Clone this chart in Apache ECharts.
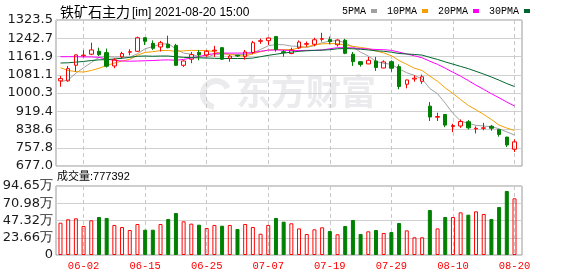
<!DOCTYPE html>
<html><head><meta charset="utf-8">
<script src="https://cdn.jsdelivr.net/npm/echarts/dist/echarts.min.js"></script>
<style>html,body{margin:0;padding:0;background:#fff}#c{width:578px;height:276px}</style>
</head><body><div id="c"></div><script>
const titleName = '铁矿石主力';
const titleInfo = '[im] 2021-08-20 15:00';
const volumeTitle = '成交量:777392';
const dates = ['05-28','05-31','06-01','06-02','06-03','06-04','06-07','06-08','06-09','06-10','06-11','06-15','06-16','06-17','06-18','06-21','06-22','06-23','06-24','06-25','06-28','06-29','06-30','07-01','07-02','07-05','07-06','07-07','07-08','07-09','07-12','07-13','07-14','07-15','07-16','07-19','07-20','07-21','07-22','07-23','07-26','07-27','07-28','07-29','07-30','08-02','08-03','08-04','08-05','08-06','08-09','08-10','08-11','08-12','08-13','08-16','08-17','08-18','08-19','08-20'];
const opens  = [1054,1054,1123,1165,1172,1185,1179,1120,1160,1181,1185,1245,1220,1204,1216,1211,1123,1150,1180,1168,1187,1201,1154,1167,1161,1180,1229,1232,1250,1183,1175,1200,1216,1216,1238,1237,1214,1234,1172,1139,1129,1142,1111,1139,1117,1039,1062,1052,942,893,905,852,854,873,841,844,853,838,805,751];
const closes = [1064,1108,1169,1168,1191,1170,1119,1147,1175,1183,1245,1229,1198,1223,1201,1123,1142,1170,1169,1185,1190,1150,1164,1164,1182,1223,1232,1244,1193,1179,1191,1226,1219,1236,1241,1228,1235,1176,1139,1127,1145,1113,1138,1110,1029,1058,1066,1072,894,896,858,856,874,846,844,846,844,817,770,784];
const lows   = [1028,1050,1095,1158,1168,1164,1113,1110,1151,1167,1182,1213,1191,1184,1198,1120,1116,1132,1145,1160,1160,1147,1139,1160,1148,1172,1218,1213,1183,1161,1172,1195,1205,1207,1228,1216,1206,1172,1120,1117,1128,1098,1110,1094,1017,1021,1050,1041,876,876,849,827,846,839,821,835,833,807,761,739];
const highs  = [1076,1120,1171,1190,1223,1201,1197,1154,1183,1194,1250,1246,1233,1231,1254,1218,1145,1182,1191,1190,1209,1203,1169,1170,1191,1231,1241,1245,1252,1191,1201,1233,1228,1245,1267,1250,1238,1240,1182,1140,1160,1160,1145,1145,1127,1060,1079,1082,960,913,907,864,883,880,853,868,859,840,806,795];
const ma5  = [1050,1058,1088,1112,1135,1158,1162,1159,1160,1159,1174,1196,1206,1216,1219,1195,1177,1172,1161,1158,1171,1173,1172,1171,1170,1177,1193,1209,1215,1214,1208,1207,1202,1210,1223,1230,1232,1223,1204,1181,1164,1140,1132,1127,1107,1090,1078,1062,1020,997,955,910,876,866,857,854,851,842,828,814];
const ma10 = [1112,1100,1095,1093,1100,1110,1122,1133,1142,1149,1168,1180,1183,1188,1189,1184,1187,1189,1188,1189,1183,1175,1172,1166,1164,1174,1183,1190,1193,1192,1192,1200,1205,1213,1218,1219,1219,1212,1207,1202,1197,1186,1178,1165,1144,1127,1110,1100,1075,1052,1023,998,971,945,926,905,883,858,845,834];
const ma20 = [1161,1161,1161,1160,1160,1158,1150,1145,1142,1141,1142,1143,1144,1146,1147,1145,1149,1155,1162,1169,1175,1177,1177,1177,1177,1179,1185,1190,1191,1190,1188,1188,1189,1189,1191,1196,1201,1201,1200,1197,1195,1193,1192,1189,1181,1173,1165,1156,1141,1127,1110,1092,1075,1055,1035,1016,997,979,960,943];
const ma30 = [1133,1134,1137,1140,1144,1147,1148,1151,1154,1158,1163,1164,1163,1164,1164,1161,1158,1157,1156,1155,1154,1153,1153,1153,1153,1155,1161,1167,1172,1177,1181,1185,1187,1189,1190,1192,1196,1197,1196,1194,1191,1187,1185,1181,1175,1173,1171,1168,1158,1149,1138,1128,1118,1108,1096,1084,1071,1057,1042,1029];
const volumes = [44.3,49.0,50.3,39.8,47.6,52.1,50.8,41.2,38.4,34.3,42.5,34.7,34.7,42.5,49.4,57.6,46.2,43.0,41.6,37.0,41.2,40.2,41.2,35.7,42.5,38.4,29.2,41.2,50.8,45.7,43.5,36.5,28.8,35.2,38.0,32.9,28.4,39.8,48.0,28.8,32.5,34.3,30.2,31.5,43.9,33.8,24.3,24.3,61.7,36.5,52.1,52.1,58.5,55.3,59.9,56.2,49.4,65.8,87.8,77.74];
const priceTicks = ['677.0','757.8','838.6','919.4','1000.3','1081.1','1161.9','1242.7','1323.5'];
const volTicks = ['0','23.66万','47.32万','70.98万','94.65万'];
const maNames = ['5PMA','10PMA','20PMA','30PMA'];
const maColors = ['#a0a0a0','#f5a000','#ff00ff','#00662e'];
const priceMin = 677.0, priceMax = 1323.5, volMax = 94.65;

const UP = '#ff0000', DOWN = '#008000';
function isUp(i){
  if (closes[i] > opens[i]) return true;
  if (closes[i] < opens[i]) return false;
  return i > 0 ? closes[i] >= closes[i-1] : true;
}
const labelEvery = (idx) => (idx - 3) % 8 === 0;
const dashed = {show:true, interval: labelEvery, alignWithLabel:true, lineStyle:{color:'#c8c8c8', type:[4,3], width:1}};
const axisFont = {color:'#1a1a1a', fontFamily:'DejaVu Sans', fontSize:13, margin:3};

const chart = echarts.init(document.getElementById('c'), null, {renderer:'canvas'});
const maSeries = [ma5, ma10, ma20, ma30].map((d, k) => ({
  type:'line', name: maNames[k], data: d, xAxisIndex:1, yAxisIndex:1,
  symbol:'none', z:3, lineStyle:{width:1, color: maColors[k]}, itemStyle:{color: maColors[k]}
}));

chart.setOption({
  animation:false,
  title:{
    text:'{a|' + titleName + '}{b|' + titleInfo + '}', left:55, top:0,
    textStyle:{fontWeight:'normal', rich:{
      a:{fontFamily:'Noto Sans CJK SC', fontSize:14, fontWeight:'normal', color:'#000'},
      b:{fontFamily:'Liberation Sans', fontSize:12, fontWeight:'normal', color:'#000', padding:[1,0,0,2]}
    }}
  },
  legend:{
    data: maNames, left:337, top:1, icon:'rect', itemWidth:6, itemHeight:4, itemGap:10, align:'right',
    textStyle:{fontFamily:'Liberation Mono', fontSize:10, color:'#000'}
  },
  graphic:[
    {type:'arc', z:0, shape:{cx:216, cy:94, r:13, startAngle:Math.PI*0.55, endAngle:Math.PI*1.85}, style:{stroke:'#ebebee', lineWidth:6, fill:null}},
    {type:'text', z:0, x:236, y:74, style:{text:'东方财富', font:'bold 35px "Noto Sans CJK SC"', fill:'#ebebee'}},
    {type:'text', z:5, x:57, y:177, style:{text: volumeTitle, font:'11px "Liberation Sans", "Noto Sans CJK SC"', fill:'#000', verticalAlign:'middle'}}
  ],
  grid:[
    {left:56, top:20, width:466, height:146, show:true, borderColor:'#999', borderWidth:1, outerBoundsMode:'none'},
    {left:56.65, top:20, width:461.7, height:146, outerBoundsMode:'none'},
    {left:56, top:186, width:466, height:69, show:true, borderColor:'#999', borderWidth:1, outerBoundsMode:'none'},
    {left:56.65, top:186, width:461.7, height:69, outerBoundsMode:'none'}
  ],
  xAxis:[
    {gridIndex:0, type:'value', show:false, min:0, max:1},
    {gridIndex:1, type:'category', data:dates, boundaryGap:true, axisLine:{show:false}, axisTick:{show:false}, axisLabel:{show:false}, splitLine:dashed},
    {gridIndex:2, type:'value', show:false, min:0, max:1},
    {gridIndex:3, type:'category', data:dates, boundaryGap:true, axisLine:{show:false}, axisTick:{show:false},
      axisLabel:{interval:labelEvery, color:'#ff0000', fontFamily:'Liberation Mono', fontSize:10.5, margin:6}, splitLine:dashed}
  ],
  yAxis:[
    {gridIndex:0, type:'value', min:0, max:8, interval:1, axisLine:{show:false}, axisTick:{show:false},
      axisLabel:Object.assign({formatter:(v)=>priceTicks[Math.round(v)]}, axisFont), splitLine:{lineStyle:{color:'#d0d0d0'}}},
    {gridIndex:1, type:'value', min:priceMin, max:priceMax, show:false},
    {gridIndex:2, type:'value', min:0, max:4, interval:1, axisLine:{show:false}, axisTick:{show:false},
      axisLabel:Object.assign({formatter:(v)=>volTicks[Math.round(v)]}, axisFont), splitLine:{lineStyle:{color:'#d0d0d0'}}},
    {gridIndex:3, type:'value', min:0, max:volMax, show:false}
  ],
  series:[
    {type:'candlestick', xAxisIndex:1, yAxisIndex:1, barWidth:4, z:4,
      data: opens.map((o,i)=>[o, closes[i], lows[i], highs[i]]),
      itemStyle:{color:'transparent', color0:DOWN, borderColor:UP, borderColor0:DOWN, borderWidth:1}},
    ...maSeries,
    {type:'bar', xAxisIndex:3, yAxisIndex:3, barWidth:4,
      data: volumes.map((v,i)=>({value:v, itemStyle: isUp(i)
        ? {color:'transparent', borderColor:UP, borderWidth:1}
        : {color:DOWN, borderColor:DOWN, borderWidth:1}}))}
  ]
});
</script></body></html>
